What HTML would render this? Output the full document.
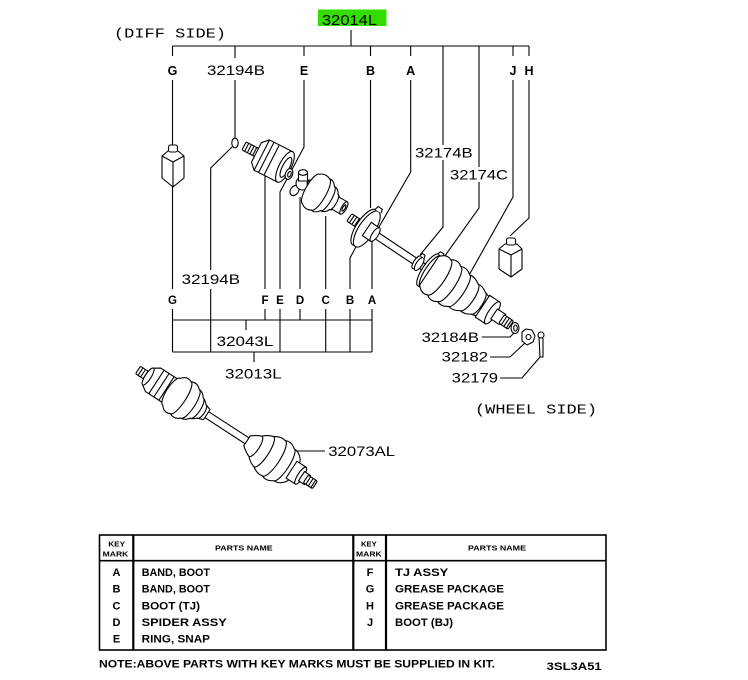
<!DOCTYPE html>
<html><head><meta charset="utf-8"><style>
html,body{margin:0;padding:0;background:#fff;}
svg{display:block}
text{font-family:"Liberation Sans",Arial,sans-serif;fill:#000;stroke:none}
.m{font-family:"Liberation Mono","DejaVu Sans Mono",monospace}
.b{font-weight:bold}
</style></head><body>
<svg width="748" height="680" viewBox="0 0 748 680" xmlns="http://www.w3.org/2000/svg">
<rect width="748" height="680" fill="#fff"/>

<!-- ===== Top header ===== -->
<rect x="318" y="9.5" width="68.5" height="16.5" fill="#33dd00"/>
<text x="322" y="25" font-size="15" textLength="55" lengthAdjust="spacingAndGlyphs">32014L</text>
<text class="m" x="114" y="37.5" font-size="14" textLength="112" lengthAdjust="spacingAndGlyphs">(DIFF SIDE)</text>

<!-- ===== Leader lines ===== -->
<g stroke="#000" stroke-width="1.1" fill="none">
 <line x1="351" y1="30" x2="351" y2="46"/>
 <line x1="172.5" y1="46" x2="529" y2="46"/>
 <!-- G -->
 <line x1="172.5" y1="46" x2="172.5" y2="56"/>
 <line x1="172.5" y1="80" x2="172.5" y2="145"/>
 <line x1="172.5" y1="187" x2="172.5" y2="289"/>
 <line x1="172.5" y1="309" x2="172.5" y2="352"/>
 <!-- 32194B -->
 <line x1="235" y1="46" x2="235" y2="58"/>
 <line x1="235" y1="80" x2="235" y2="138"/>
 <path d="M232,147 L210.7,168 L210.7,270"/>
 <line x1="210.7" y1="289" x2="210.7" y2="352"/>
 <!-- E -->
 <line x1="304" y1="46" x2="304" y2="56"/>
 <path d="M304,80 L304,147 L280,192 L280,289"/>
 <line x1="280" y1="309" x2="280" y2="352"/>
 <!-- B -->
 <line x1="370.5" y1="46" x2="370.5" y2="56"/>
 <line x1="370.5" y1="80" x2="370.5" y2="208"/>
 <path d="M357,245 L350,258 L350,289"/>
 <line x1="350" y1="309" x2="350" y2="352"/>
 <!-- A -->
 <line x1="410.7" y1="46" x2="410.7" y2="56"/>
 <path d="M410.7,80 L410.7,172 L379,227"/>
 <line x1="372" y1="225" x2="372" y2="289"/>
 <line x1="372" y1="309" x2="372" y2="352"/>
 <!-- 32174B / 32174C -->
 <path d="M443,46 L443,227 L420,255"/>
 <path d="M479,46 L479,208 L442,260"/>
 <!-- J -->
 <line x1="513" y1="46" x2="513" y2="56"/>
 <path d="M513,80 L513,197 L468,277"/>
 <!-- H -->
 <line x1="529" y1="46" x2="529" y2="56"/>
 <path d="M529,80 L529,218 L510,236"/>
 <!-- F, D, C -->
 <line x1="265" y1="175" x2="265" y2="289"/>
 <line x1="265" y1="309" x2="265" y2="320"/>
 <line x1="300" y1="197" x2="300" y2="289"/>
 <line x1="300" y1="309" x2="300" y2="320"/>
 <line x1="325.7" y1="216" x2="325.7" y2="289"/>
 <line x1="325.7" y1="309" x2="325.7" y2="352"/>
 <!-- buses -->
 <line x1="172.5" y1="320" x2="372" y2="320"/>
 <line x1="246" y1="320" x2="246" y2="330"/>
 <line x1="172.5" y1="352" x2="372" y2="352"/>
 <line x1="254" y1="352" x2="254" y2="362"/>
 <!-- right side leaders -->
 <path d="M481.7,337 L510,337 L514,333"/>
 <path d="M490,357 L510,357 L526,342"/>
 <path d="M500,378 L522,378 L540,357"/>
 <line x1="291.7" y1="451" x2="325" y2="451"/>
</g>

<!-- ===== Part number labels ===== -->
<g font-size="14">
 <text x="207" y="75" textLength="58" lengthAdjust="spacingAndGlyphs">32194B</text>
 <rect x="413" y="145" width="62" height="15" fill="#fff"/>
 <text x="415" y="157.3" textLength="57.7" lengthAdjust="spacingAndGlyphs">32174B</text>
 <rect x="448" y="167" width="62" height="15" fill="#fff"/>
 <text x="450" y="179.3" textLength="58" lengthAdjust="spacingAndGlyphs">32174C</text>
 <text x="181.7" y="284" textLength="58.3" lengthAdjust="spacingAndGlyphs">32194B</text>
 <text x="216.7" y="346" textLength="56.6" lengthAdjust="spacingAndGlyphs">32043L</text>
 <text x="225" y="378.3" textLength="56.7" lengthAdjust="spacingAndGlyphs">32013L</text>
 <text x="421.7" y="342" textLength="57.3" lengthAdjust="spacingAndGlyphs">32184B</text>
 <text x="441.7" y="361.7" textLength="46.3" lengthAdjust="spacingAndGlyphs">32182</text>
 <text x="451.7" y="382.7" textLength="46.3" lengthAdjust="spacingAndGlyphs">32179</text>
 <text x="328.3" y="456" textLength="66.7" lengthAdjust="spacingAndGlyphs">32073AL</text>
</g>
<text class="m" x="475" y="413.3" font-size="14" textLength="122" lengthAdjust="spacingAndGlyphs">(WHEEL SIDE)</text>

<!-- key letters -->
<g class="b" font-size="12.5" text-anchor="middle">
 <text x="172.5" y="75">G</text>
 <text x="304" y="75">E</text>
 <text x="370.5" y="75">B</text>
 <text x="410.7" y="75">A</text>
 <text x="513" y="75">J</text>
 <text x="529" y="75">H</text>
</g>
<g class="b" font-size="11.5" text-anchor="middle">
 <text x="172.5" y="304">G</text>
 <text x="265" y="304">F</text>
 <text x="280" y="304">E</text>
 <text x="300" y="304">D</text>
 <text x="325.7" y="304">C</text>
 <text x="350" y="304">B</text>
 <text x="372" y="304">A</text>
</g>

<!-- ===== Parts drawings ===== -->
<g stroke="#000" stroke-width="1.1" fill="#fff" stroke-linejoin="round">

 <!-- grease package G -->
 <path d="M162,156 L168,151 L178,151 L184,156 L184,178 L173,187 L162,178 Z"/>
 <path d="M162,156 L173,162 L184,156 M173,162 L173,187" fill="none"/>
 <rect x="168.5" y="145" width="9" height="7" rx="2"/>
 <!-- grease package H -->
 <path d="M499,249 L505,244 L517,244 L522,249 L522,269 L511,277 L499,269 Z"/>
 <path d="M499,249 L511,255 L522,249 M511,255 L511,277" fill="none"/>
 <rect x="506.5" y="238" width="9" height="7" rx="2"/>

 <!-- circlip 32194B -->
 <ellipse cx="235" cy="143" rx="3.2" ry="4.8"/>

 <!-- TJ housing (F) -->
 <g transform="translate(244,146) rotate(27)">
  <rect x="0" y="-4.5" width="16" height="9" rx="1.5"/>
  <path d="M3,-4.5v9M6,-4.5v9M9,-4.5v9M12,-4.5v9" fill="none"/>
  <path d="M14,-11 L20,-17 L46,-17 L46,17 L20,17 L14,11 Z"/>
  <path d="M25,-17 L25,17 M31,-17 L31,17 M20,-17 L20,17" fill="none"/>
  <ellipse cx="46" cy="0" rx="6" ry="17"/>
  <ellipse cx="47" cy="0" rx="3.5" ry="11"/>
 </g>

 <!-- snap ring E -->
 <ellipse cx="289" cy="174" rx="3.6" ry="5.6" transform="rotate(20 289 174)"/>
 <ellipse cx="289.5" cy="174" rx="1.6" ry="3" transform="rotate(20 289 174)"/>

 <!-- spider D -->
 <ellipse cx="294.5" cy="190.5" rx="4" ry="5.5" transform="rotate(35 294.5 190.5)"/>
 <circle cx="302.5" cy="183.5" r="6.5"/>
 <rect x="298.5" y="172" width="9" height="9"/>
 <ellipse cx="303" cy="172.5" rx="4.5" ry="2.8"/>
 <ellipse cx="310.5" cy="185.5" rx="3.2" ry="5.5" transform="rotate(-10 310.5 185.5)"/>
 <path d="M309,181 l2,8 M307,182 l2,8" fill="none"/>

 <!-- boot C -->
 <g transform="translate(311,189) rotate(30)">
  <path d="M0,-17 C3,-20 8,-20 11,-18 C14,-19 17,-17 19,-14 C22,-14 25,-12 26,-9 L29,-7 L38,-7 L38,7 L29,7 L26,9 C25,12 22,14 19,14 C17,17 14,19 11,18 C8,20 3,20 0,17 A5 17 0 0 1 0,-17 Z"/>
  <path d="M11,-18 A5 18 0 0 1 11,18 M19,-14 A4 14 0 0 1 19,14 M26,-9 A3 9 0 0 1 26,9" fill="none"/>
  <ellipse cx="38" cy="0" rx="2.5" ry="7"/>
  <ellipse cx="38" cy="0" rx="1.2" ry="3.5"/>
 </g>

 <!-- upper shaft assembly 32014L -->
 <g transform="translate(351,218.5) rotate(33.7)">
  <rect x="24" y="-3.5" width="80" height="7"/>
  <rect x="-2" y="-4.5" width="16" height="9" rx="1.5"/>
  <path d="M1,-4.5v9M4,-4.5v9M7,-4.5v9M10,-4.5v9" fill="none"/>
  <ellipse cx="16" cy="0" rx="8" ry="21"/>
  <ellipse cx="19" cy="0" rx="8" ry="21"/>
  <path d="M15,-21 l1,-4 l5,0 l1,4" />
  <rect x="19" y="-8" width="10" height="16"/>
  <ellipse cx="29" cy="0" rx="3" ry="8"/>
  <!-- small band 32174B -->
  <ellipse cx="79" cy="0" rx="3" ry="7.5"/>
  <ellipse cx="82" cy="0" rx="3" ry="7.5"/>
  <path d="M78,-7.5 l1,-3 l3,0 l1,3"/>
  <!-- big band 32174C -->
  <ellipse cx="93" cy="0" rx="6" ry="19"/>
  <ellipse cx="96" cy="0" rx="6" ry="19"/>
  <path d="M92,-19 l1,-3 l4,0 l1,3"/>
  <!-- BJ boot -->
  <path d="M94,-17 C98,-22 102,-23 106,-21 C110,-24 114,-24 118,-21 C122,-23 126,-22 130,-19 C134,-20 138,-19 142,-16 C146,-17 150,-15 153,-13 L160,-11 L160,11 L153,13 C150,15 146,17 142,16 C138,19 134,20 130,19 C126,22 122,23 118,21 C114,24 110,24 106,21 C102,23 98,22 94,17 Z"/>
  <path d="M106,-21 A6 21 0 0 1 106,21 M118,-21 A6 21 0 0 1 118,21 M130,-19 A5 19 0 0 1 130,19 M142,-16 A5 16 0 0 1 142,16 M153,-13 A4 13 0 0 1 153,13" fill="none"/>
  <!-- BJ housing, stub, spline -->
  <rect x="158" y="-13" width="12" height="26"/>
  <ellipse cx="170" cy="0" rx="4" ry="13"/>
  <rect x="172" y="-6" width="10" height="12"/>
  <rect x="181" y="-5" width="11" height="10" rx="1.5"/>
  <path d="M184,-5v10M187,-5v10M190,-5v10" fill="none"/>
 </g>

 <!-- washer 32184B -->
 <ellipse cx="515" cy="328" rx="4" ry="5.5"/>
 <ellipse cx="515.5" cy="328" rx="1.8" ry="3"/>
 <!-- nut 32182 -->
 <path d="M522,332 L526,329 L532,330 L535,336 L533,342 L527,345 L522,341 Z"/>
 <circle cx="528.5" cy="337" r="2.5"/>
 <!-- cotter pin 32179 -->
 <circle cx="541" cy="335" r="3"/>
 <path d="M539,337 L540,357 L543,357 L543,338" fill="none"/>

 <!-- lower shaft assembly 32013L -->
 <g transform="translate(138,370) rotate(33)">
  <rect x="78" y="-3.5" width="58" height="7"/>
  <rect x="0" y="-4.5" width="14" height="9" rx="1.5"/>
  <path d="M3,-4.5v9M6,-4.5v9M9,-4.5v9" fill="none"/>
  <path d="M12,-10 L18,-14 L42,-14 L42,14 L18,14 L12,10 Z"/>
  <ellipse cx="12" cy="0" rx="3" ry="10"/>
  <path d="M22,-14 L22,14 M28,-14 L28,14 M34,-14 L34,14" fill="none"/>
  <path d="M40,-16 C43,-20 47,-21 51,-19 C55,-21 59,-20 62,-17 C65,-17 68,-15 70,-12 C72,-12 74,-10 76,-8 L82,-6 L82,6 L76,8 C74,10 72,12 70,12 C68,15 65,17 62,17 C59,20 55,21 51,19 C47,21 43,20 40,16 A5 16 0 0 1 40,-16 Z"/>
  <path d="M51,-19 A5 19 0 0 1 51,19 M62,-17 A5 17 0 0 1 62,17 M70,-12 A4 12 0 0 1 70,12 M76,-8 A3 8 0 0 1 76,8" fill="none"/>
  <path d="M130,-6 C134,-9 137,-11 140,-12 C143,-15 146,-17 150,-18 C154,-21 158,-22 162,-21 C166,-23 170,-22 174,-19 C178,-19 182,-17 185,-13 L186,-11 L186,11 L185,13 C182,17 178,19 174,19 C170,22 166,23 162,21 C158,22 154,21 150,18 C146,17 143,15 140,12 C137,11 134,9 130,6 Z"/>
  <path d="M140,-12 A4 12 0 0 1 140,12 M150,-18 A5 18 0 0 1 150,18 M162,-21 A6 21 0 0 1 162,21 M174,-19 A5 19 0 0 1 174,19" fill="none"/>
  <rect x="183" y="-10" width="11" height="20"/>
  <ellipse cx="194" cy="0" rx="3" ry="10"/>
  <rect x="195" y="-5.5" width="7" height="11"/>
  <rect x="200" y="-4.5" width="11" height="9" rx="1.5"/>
  <path d="M203,-4.5v9M206,-4.5v9M209,-4.5v9" fill="none"/>
 </g>
</g>

<!-- ===== Table ===== -->
<g stroke="#000" fill="none">
 <rect x="99.5" y="535" width="506.5" height="115" stroke-width="1.6"/>
 <line x1="99.5" y1="560.7" x2="606" y2="560.7" stroke-width="1.6"/>
 <line x1="133.3" y1="535" x2="133.3" y2="650" stroke-width="2.2"/>
 <line x1="353.3" y1="535" x2="353.3" y2="650" stroke-width="2.2"/>
 <line x1="386" y1="535" x2="386" y2="650" stroke-width="2.2"/>
</g>
<g class="b" font-size="7">
 <text x="108.3" y="546.7" textLength="16.7" lengthAdjust="spacingAndGlyphs">KEY</text>
 <text x="102.7" y="556.7" textLength="25.6" lengthAdjust="spacingAndGlyphs">MARK</text>
 <text x="361" y="546.7" textLength="15.7" lengthAdjust="spacingAndGlyphs">KEY</text>
 <text x="356" y="556.7" textLength="25.7" lengthAdjust="spacingAndGlyphs">MARK</text>
 <text x="215" y="550.7" textLength="57.7" lengthAdjust="spacingAndGlyphs">PARTS NAME</text>
 <text x="468" y="550.7" textLength="58" lengthAdjust="spacingAndGlyphs">PARTS NAME</text>
</g>
<g class="b" font-size="11" text-anchor="middle">
 <text x="116.5" y="576">A</text>
 <text x="116.5" y="592.7">B</text>
 <text x="116.5" y="609.3">C</text>
 <text x="116.5" y="626">D</text>
 <text x="116.5" y="642.7">E</text>
 <text x="370" y="576">F</text>
 <text x="370" y="592.7">G</text>
 <text x="370" y="609.3">H</text>
 <text x="370" y="626">J</text>
</g>
<g class="b" font-size="11">
 <text x="141.7" y="576" textLength="68.3" lengthAdjust="spacingAndGlyphs">BAND, BOOT</text>
 <text x="141.7" y="592.7" textLength="68.3" lengthAdjust="spacingAndGlyphs">BAND, BOOT</text>
 <text x="141.7" y="609.3" textLength="58.3" lengthAdjust="spacingAndGlyphs">BOOT (TJ)</text>
 <text x="141.7" y="626" textLength="85" lengthAdjust="spacingAndGlyphs">SPIDER ASSY</text>
 <text x="141.7" y="642.7" textLength="68.3" lengthAdjust="spacingAndGlyphs">RING, SNAP</text>
 <text x="395" y="576" textLength="53.3" lengthAdjust="spacingAndGlyphs">TJ ASSY</text>
 <text x="395" y="592.7" textLength="109" lengthAdjust="spacingAndGlyphs">GREASE PACKAGE</text>
 <text x="395" y="609.3" textLength="109" lengthAdjust="spacingAndGlyphs">GREASE PACKAGE</text>
 <text x="395" y="626" textLength="58" lengthAdjust="spacingAndGlyphs">BOOT (BJ)</text>
 <text x="99" y="667.3" textLength="396" lengthAdjust="spacingAndGlyphs">NOTE:ABOVE PARTS WITH KEY MARKS MUST BE SUPPLIED IN KIT.</text>
 <text x="546.7" y="670" textLength="55" lengthAdjust="spacingAndGlyphs">3SL3A51</text>
</g>
</svg>
</body></html>
